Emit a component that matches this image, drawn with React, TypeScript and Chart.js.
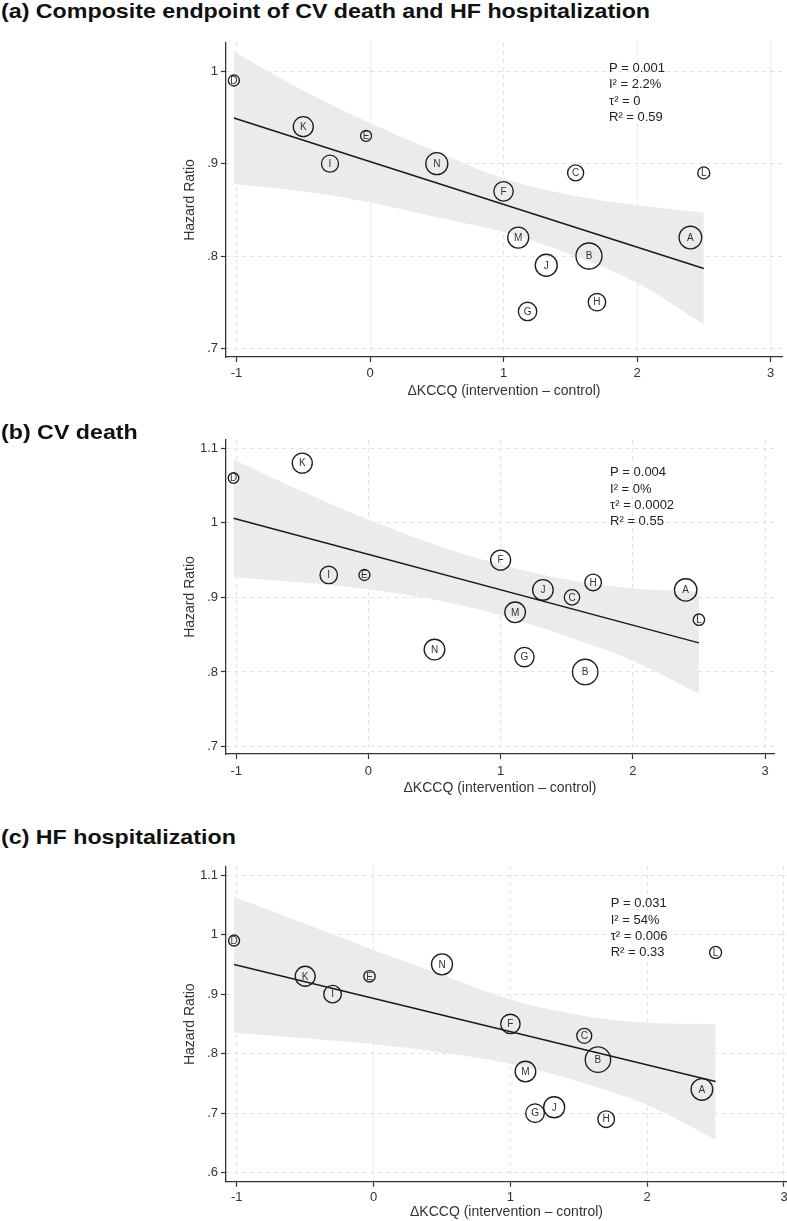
import React, { useEffect, useRef } from "react";
import { Chart, registerables } from "chart.js";

Chart.register(...registerables);

const FONT = '"Liberation Sans", Arial, Helvetica, sans-serif';

// ---------------- data ----------------
const studies = ["A", "B", "C", "D", "E", "F", "G", "H", "I", "J", "K", "L", "M", "N"];
const deltaKccq = [2.4, 1.64, 1.54, -1.02, -0.03, 1.0, 1.18, 1.7, -0.3, 1.32, -0.5, 2.5, 1.11, 0.5];

const hrComposite = [0.82, 0.8, 0.89, 0.99, 0.93, 0.87, 0.74, 0.75, 0.9, 0.79, 0.94, 0.89, 0.82, 0.9];
const hrCvDeath = [0.91, 0.8, 0.9, 1.06, 0.93, 0.95, 0.82, 0.92, 0.93, 0.91, 1.08, 0.87, 0.88, 0.83];
const hrHfHosp = [0.74, 0.79, 0.83, 0.99, 0.93, 0.85, 0.7, 0.69, 0.9, 0.71, 0.93, 0.97, 0.77, 0.95];

// bubble radius (study weight)
const weightComposite = [11.3, 13, 8, 5.5, 5.5, 9.7, 9.2, 8.7, 8.5, 11, 10, 6, 10.5, 11];
const weightCvDeath = [11.2, 12.7, 7.7, 5.3, 5.5, 10, 9.7, 8.3, 8.7, 10.3, 10, 5.7, 10.3, 10.3];
const weightHfHosp = [10.8, 12.7, 7.5, 5.5, 5.7, 9.7, 9.3, 8.3, 8.8, 10.5, 10, 6, 10.3, 10.5];

// fitted meta-regression line
const fitX = [-1.02, 2.5];
const fitComposite = [0.9495, 0.7865];
const fitCvDeath = [1.006, 0.839];
const fitHfHosp = [0.9496, 0.7534];

// 95% CI band
const ciX = [-1.02, -0.5, 0, 0.5, 1, 1.5, 2, 2.5];
const ciCompositeUpper = [1.021, 0.979, 0.944, 0.913, 0.884, 0.866, 0.855, 0.847];
const ciCompositeLower = [0.878, 0.87, 0.858, 0.842, 0.826, 0.802, 0.771, 0.726];
const ciCvDeathUpper = [1.085, 1.042, 1.004, 0.971, 0.944, 0.924, 0.912, 0.908];
const ciCvDeathLower = [0.927, 0.92, 0.911, 0.897, 0.876, 0.848, 0.815, 0.771];
const ciHfHospUpper = [1.063, 1.018, 0.974, 0.932, 0.891, 0.865, 0.852, 0.85];
const ciHfHospLower = [0.835, 0.826, 0.816, 0.802, 0.783, 0.753, 0.714, 0.656];

// ticks
const xTicks = [-1, 0, 1, 2, 3];
const xTickLabels = ["-1", "0", "1", "2", "3"];
const yTicksComposite = [0.7, 0.8, 0.9, 1];
const yTickLabelsComposite = [".7", ".8", ".9", "1"];
const yTicksCvDeath = [0.7, 0.8, 0.9, 1, 1.1];
const yTickLabelsCvDeath = [".7", ".8", ".9", "1", "1.1"];
const yTicksHfHosp = [0.6, 0.7, 0.8, 0.9, 1, 1.1];
const yTickLabelsHfHosp = [".6", ".7", ".8", ".9", "1", "1.1"];

// statistics text
const statsComposite = ["P = 0.001", "I\u00B2 = 2.2%", "\u03C4\u00B2 = 0", "R\u00B2 = 0.59"];
const statsCvDeath = ["P = 0.004", "I\u00B2 = 0%", "\u03C4\u00B2 = 0.0002", "R\u00B2 = 0.55"];
const statsHfHosp = ["P = 0.031", "I\u00B2 = 54%", "\u03C4\u00B2 = 0.006", "R\u00B2 = 0.33"];

const panelTitles = [
  "(a) Composite endpoint of CV death and HF hospitalization",
  "(b) CV death",
  "(c) HF hospitalization",
];
const xAxisTitle = "\u0394KCCQ (intervention \u2013 control)";
const yAxisTitle = "Hazard Ratio";

// ---------------- layout ----------------
type Panel = {
  title: string;
  titleTop: number;
  top: number;
  height: number;
  padTop: number;
  padRight: number;
  xAxisH: number;
  xTickPad: number;
  xTitlePad: number;
  xMin: number;
  xMax: number;
  yMin: number;
  yMax: number;
  hr: number[];
  weight: number[];
  fit: number[];
  ciUpper: number[];
  ciLower: number[];
  yTicks: number[];
  yLabels: string[];
  stats: string[];
  statX: number;
  statY: number;
};

const panels: Panel[] = [
  {
    title: panelTitles[0], titleTop: -0.5, top: 33, height: 377, padTop: 10, padRight: 5,
    xAxisH: 53, xTickPad: 3.5, xTitlePad: 10,
    xMin: -1.079, xMax: 3.086, yMin: 0.6907, yMax: 1.0306,
    hr: hrComposite, weight: weightComposite, fit: fitComposite,
    ciUpper: ciCompositeUpper, ciLower: ciCompositeLower,
    yTicks: yTicksComposite, yLabels: yTickLabelsComposite,
    stats: statsComposite, statX: 1.79, statY: 1.003,
  },
  {
    title: panelTitles[1], titleTop: 420.5, top: 430, height: 380, padTop: 10, padRight: 13,
    xAxisH: 56, xTickPad: 4.5, xTitlePad: 13.3,
    xMin: -1.077, xMax: 3.068, yMin: 0.69, yMax: 1.111,
    hr: hrCvDeath, weight: weightCvDeath, fit: fitCvDeath,
    ciUpper: ciCvDeathUpper, ciLower: ciCvDeathLower,
    yTicks: yTicksCvDeath, yLabels: yTickLabelsCvDeath,
    stats: statsCvDeath, statX: 1.828, statY: 1.067,
  },
  {
    title: panelTitles[2], titleTop: 825.5, top: 857, height: 364, padTop: 9.7, padRight: 0,
    xAxisH: 39.3, xTickPad: 2.5, xTitlePad: 0,
    xMin: -1.079, xMax: 3.022, yMin: 0.585, yMax: 1.114,
    hr: hrHfHosp, weight: weightHfHosp, fit: fitHfHosp,
    ciUpper: ciHfHospUpper, ciLower: ciHfHospLower,
    yTicks: yTicksHfHosp, yLabels: yTickLabelsHfHosp,
    stats: statsHfHosp, statX: 1.733, statY: 1.0516,
  },
];

const GRID = "#e2e2e2";
const AXIS = "#333333";

function buildConfig(p: Panel): any {
  const lettersPlugin = {
    id: "letters",
    afterDatasetsDraw(chart: any) {
      const meta = chart.getDatasetMeta(3);
      const ctx = chart.ctx;
      ctx.save();
      ctx.font = `10px ${FONT}`;
      ctx.fillStyle = "#333";
      ctx.textAlign = "center";
      ctx.textBaseline = "middle";
      meta.data.forEach((el: any, i: number) => {
        ctx.fillText(studies[i], el.x, el.y + 0.5);
      });
      ctx.restore();
    },
  };
  const statsPlugin = {
    id: "statsText",
    afterDatasetsDraw(chart: any) {
      const ctx = chart.ctx;
      const x = chart.scales.x.getPixelForValue(p.statX);
      const y = chart.scales.y.getPixelForValue(p.statY);
      ctx.save();
      ctx.font = `13px ${FONT}`;
      ctx.fillStyle = "#222";
      ctx.textAlign = "left";
      ctx.textBaseline = "middle";
      p.stats.forEach((t, i) => ctx.fillText(t, x, y + i * 16.3));
      ctx.restore();
    },
  };

  const tickFont = { family: FONT, size: 13 };
  const titleFont = { family: FONT, size: 14 };

  return {
    type: "scatter",
    data: {
      datasets: [
        {
          type: "scatter",
          data: ciX.map((x, i) => ({ x, y: p.ciLower[i] })),
          showLine: true,
          borderColor: "rgba(0,0,0,0)",
          borderWidth: 0,
          pointRadius: 0,
          fill: false,
          cubicInterpolationMode: "monotone",
          order: 3,
          clip: false,
        },
        {
          type: "scatter",
          data: ciX.map((x, i) => ({ x, y: p.ciUpper[i] })),
          showLine: true,
          borderColor: "rgba(0,0,0,0)",
          borderWidth: 0,
          pointRadius: 0,
          fill: "-1",
          backgroundColor: "#ebebeb",
          cubicInterpolationMode: "monotone",
          order: 2,
          clip: false,
        },
        {
          type: "scatter",
          data: fitX.map((x, i) => ({ x, y: p.fit[i] })),
          showLine: true,
          borderColor: "#1a1a1a",
          borderWidth: 1.5,
          pointRadius: 0,
          fill: false,
          order: 1,
          clip: false,
        },
        {
          type: "bubble",
          data: deltaKccq.map((x, i) => ({ x, y: p.hr[i], r: p.weight[i] })),
          backgroundColor: "rgba(0,0,0,0)",
          borderColor: "#1e1e1e",
          borderWidth: 1.35,
          hoverRadius: 0,
          order: 0,
          clip: false,
        },
      ],
    },
    options: {
      responsive: false,
      maintainAspectRatio: false,
      animation: false,
      devicePixelRatio: 1,
      events: [],
      layout: {
        autoPadding: false,
        padding: { top: p.padTop, right: p.padRight, bottom: 0, left: 0 },
      },
      plugins: {
        legend: { display: false },
        tooltip: { enabled: false },
        title: { display: false },
      },
      scales: {
        x: {
          type: "linear",
          position: "bottom",
          min: p.xMin,
          max: p.xMax,
          afterBuildTicks: (s: any) => {
            s.ticks = xTicks.map((v) => ({ value: v }));
          },
          afterFit: (s: any) => {
            s.height = p.xAxisH;
            s.paddingLeft = 0;
            s.paddingRight = 0;
          },
          ticks: {
            callback: (_v: any, i: number) => xTickLabels[i],
            font: tickFont,
            color: AXIS,
            padding: p.xTickPad,
            maxRotation: 0,
            minRotation: 0,
            autoSkip: false,
          },
          grid: {
            color: GRID,
            lineWidth: 1,
            tickLength: 5,
            tickColor: AXIS,
            tickWidth: 1.2,
          },
          border: { display: true, color: AXIS, width: 1.3, dash: [4, 4] },
          title: {
            display: true,
            text: xAxisTitle,
            font: titleFont,
            color: AXIS,
            padding: { top: 0, bottom: p.xTitlePad },
          },
        },
        y: {
          type: "linear",
          position: "left",
          min: p.yMin,
          max: p.yMax,
          afterBuildTicks: (s: any) => {
            s.ticks = p.yTicks.map((v) => ({ value: v }));
          },
          afterFit: (s: any) => {
            s.width = 226;
            s.paddingTop = 0;
            s.paddingBottom = 0;
          },
          ticks: {
            callback: (_v: any, i: number) => p.yLabels[i],
            font: tickFont,
            color: AXIS,
            padding: 3,
            autoSkip: false,
          },
          grid: {
            color: GRID,
            lineWidth: 1,
            tickLength: 5,
            tickColor: AXIS,
            tickWidth: 1.2,
          },
          border: { display: true, color: AXIS, width: 1.3, dash: [4, 4] },
          title: {
            display: true,
            text: yAxisTitle,
            font: titleFont,
            color: AXIS,
            padding: { top: 182, bottom: 0 },
          },
        },
      },
    },
    plugins: [lettersPlugin, statsPlugin],
  };
}

function PanelChart({ p }: { p: Panel }) {
  const ref = useRef<HTMLCanvasElement | null>(null);
  useEffect(() => {
    if (!ref.current) return;
    const chart = new Chart(ref.current, buildConfig(p));
    return () => chart.destroy();
  }, [p]);
  return (
    <canvas
      ref={ref}
      width={787}
      height={p.height}
      style={{ position: "absolute", left: 0, top: p.top, width: 787, height: p.height }}
    />
  );
}

function measureTitleScale(): number {
  try {
    const c = document.createElement("canvas").getContext("2d");
    if (!c) return 1.1;
    c.font = `bold 21px ${FONT}`;
    const w = c.measureText(panelTitles[0]).width;
    return w > 0 ? 649 / w : 1.1;
  } catch (e) {
    return 1.1;
  }
}

export default function App() {
  const k = measureTitleScale();
  return (
    <div
      style={{
        position: "absolute",
        left: 0,
        top: 0,
        width: 787,
        height: 1221,
        overflow: "hidden",
        background: "#ffffff",
      }}
    >
      {panels.map((p, i) => (
        <PanelChart key={"c" + i} p={p} />
      ))}
      {panels.map((p, i) => (
        <div
          key={"t" + i}
          style={{
            position: "absolute",
            left: 1,
            top: p.titleTop,
            fontFamily: FONT,
            fontWeight: 700,
            fontSize: 21,
            lineHeight: "21px",
            whiteSpace: "nowrap",
            color: "#111",
            transform: `scaleX(${k})`,
            transformOrigin: "0 0",
            zIndex: 2,
          }}
        >
          {p.title}
        </div>
      ))}
    </div>
  );
}
